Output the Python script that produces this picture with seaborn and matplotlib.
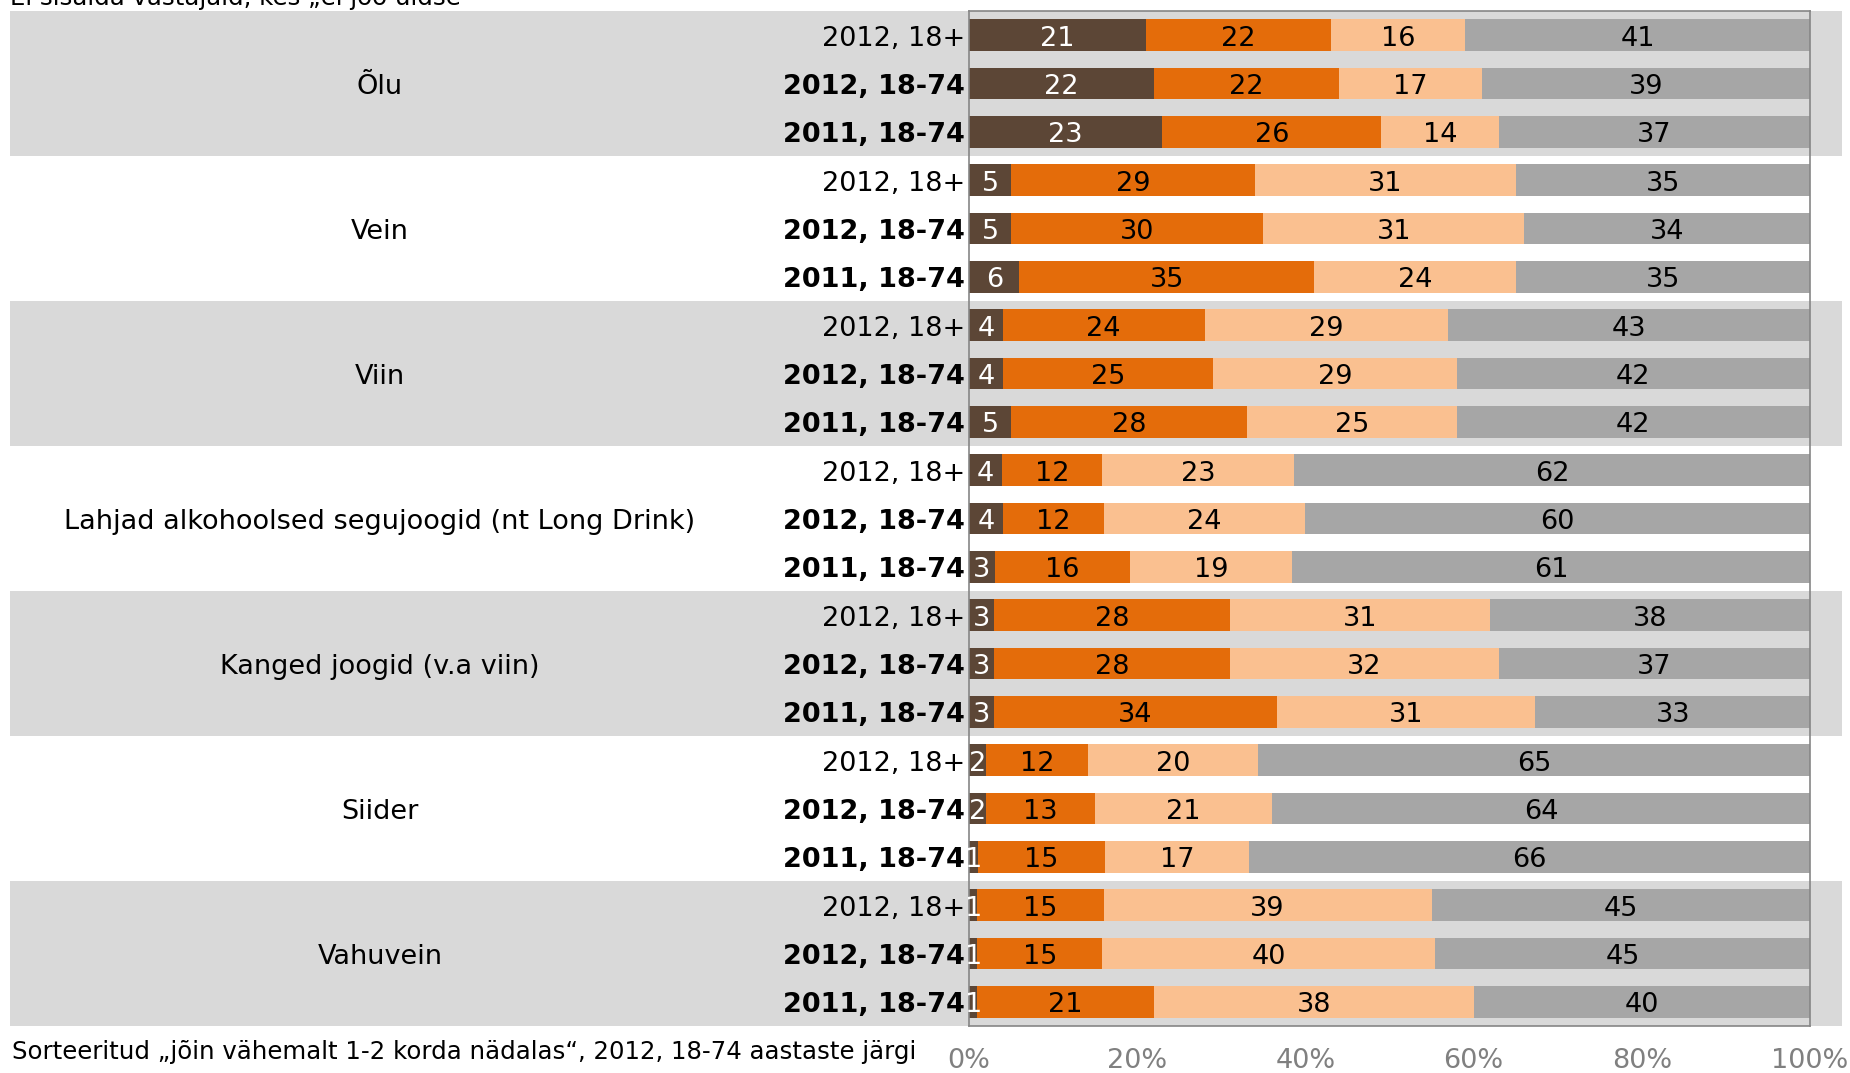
import numpy as np
import pandas as pd
import matplotlib
matplotlib.use('Agg')
import matplotlib.pyplot as plt
import matplotlib.transforms as mtransforms
import seaborn as sns

# drink types, three survey rows per drink
drinks = ['Õlu', 'Vein', 'Viin', 'Lahjad alkohoolsed segujoogid (nt Long Drink)',
          'Kanged joogid (v.a viin)', 'Siider', 'Vahuvein']
groups = ['2012, 18+', '2012, 18-74', '2011, 18-74']

# shares in %, one value per bar (top to bottom)
weekly = [21, 22, 23, 5, 5, 6, 4, 4, 5, 4, 4, 3, 3, 3, 3, 2, 2, 1, 1, 1, 1]
monthly = [22, 22, 26, 29, 30, 35, 24, 25, 28, 12, 12, 16, 28, 28, 34, 12, 13, 15, 15, 15, 21]
rarely = [16, 17, 14, 31, 31, 24, 29, 29, 25, 23, 24, 19, 31, 32, 31, 20, 21, 17, 39, 40, 38]
not_year = [41, 39, 37, 35, 34, 35, 43, 42, 42, 62, 60, 61, 38, 37, 33, 65, 64, 66, 45, 45, 40]

colors = ['#5c4636', '#e46c0a', '#fac090', '#a6a6a6']
band_color = '#d9d9d9'

sns.set_style('white')
plt.rcParams['font.family'] = ['DejaVu Sans']
plt.rcParams['text.color'] = 'black'

series = [weekly, monthly, rarely, not_year]
n = len(weekly)
rows = [f'r{i:02d}' for i in range(n)]
labels = [groups[i % 3] for i in range(n)]

df = pd.DataFrame({'row': rows})
vals = np.array(series, dtype=float).T
# stretch each bar to 100% (rounded values don't always add up)
widths = vals / vals.sum(axis=1, keepdims=True) * 100
cum = np.cumsum(widths, axis=1)
for k in range(4):
    df[f'c{k}'] = cum[:, k]

fig = plt.figure(figsize=(18.5, 10.73), dpi=100)
ax = fig.add_axes([0.5238, 0.0438, 0.4546, 0.9459])
ax.set_facecolor('none')

# stacked bars: draw cumulative totals from the longest to the shortest
for k in [3, 2, 1, 0]:
    sns.barplot(data=df, x=f'c{k}', y='row', order=rows, orient='h', color=colors[k],
                saturation=1, width=0.66, errorbar=None, linewidth=0, ax=ax)

dy = 0.07  # small downward nudge so text sits like the original

# value labels
for i in range(n):
    left = 0
    for k in range(4):
        w = widths[i, k]
        ax.text(left + w / 2, i + dy, str(series[k][i]), ha='center', va='center',
                fontsize=19.5, color='white' if k == 0 else 'black', zorder=5)
        left += w

# row labels left of the bars
row_trans = mtransforms.blended_transform_factory(ax.transAxes, ax.transData)
for i, lab in enumerate(labels):
    ax.text(-0.005, i + dy, lab, transform=row_trans, ha='right', va='center', fontsize=19.5,
            fontweight='normal' if i % 3 == 0 else 'bold')

# grey bands behind every other drink
trans = mtransforms.blended_transform_factory(fig.transFigure, ax.transData)
for g, name in enumerate(drinks):
    if g % 2 == 0:
        ax.add_patch(plt.Rectangle((0.0054, 3 * g - 0.5), 0.9903, 3, transform=trans,
                                   facecolor=band_color, edgecolor='none', clip_on=False, zorder=0))
    ax.text(0.2054, 3 * g + 1 + 0.08, name, transform=trans, ha='center', va='center', fontsize=19.5)

ax.set_xlim(0, 100)
ax.set_ylim(n - 0.5, -0.5)
ax.set_xticks([0, 20, 40, 60, 80, 100])
ax.set_xticklabels([f'{t}%' for t in [0, 20, 40, 60, 80, 100]], color='#808080', fontsize=19.5)
ax.set_yticks([])
ax.tick_params(axis='x', length=0, pad=16)
ax.set_xlabel('')
ax.set_ylabel('')
ax.grid(False)
for s in ax.spines.values():
    s.set_visible(True)
    s.set_color('#868686')
    s.set_linewidth(1.2)

fig.text(0.0054, 0.9949, 'Ei sisalda vastajaid, kes „ei joo üldse“', fontsize=17.6, va='baseline')
fig.text(0.0065, 0.0195, 'Sorteeritud „jõin vähemalt 1-2 korda nädalas“, 2012, 18-74 aastaste järgi',
         fontsize=17.6, va='center')

fig.savefig('out.png', dpi=100)
